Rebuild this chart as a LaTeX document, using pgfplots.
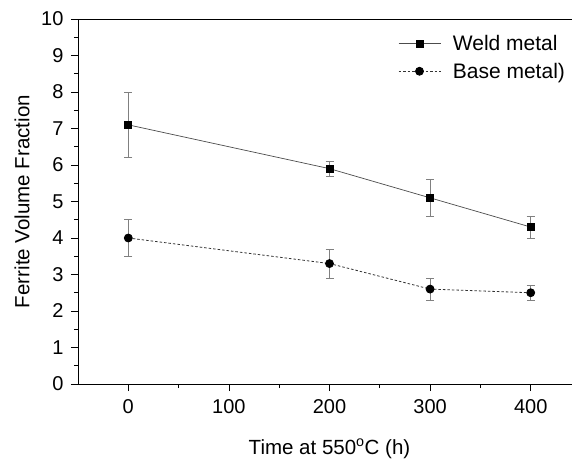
\documentclass[border=0pt]{standalone}
\usepackage{fontspec}
\setmainfont{Liberation Sans}
\usepackage{pgfplots}
\pgfplotsset{compat=1.18}
\newcommand\fs{\fontsize{20bp}{24bp}\selectfont}
\newcommand\fl{\fontsize{20.5bp}{24bp}\selectfont}
\begin{document}
\begin{tikzpicture}
\begin{axis}[
  at={(0,0)}, anchor=south west,
  scale only axis,
  width=503bp, height=365bp,
  xmin=-50, xmax=450,
  ymin=0, ymax=10,
  xtick={0,100,200,300,400},
  ytick={0,1,2,3,4,5,6,7,8,9,10},
  minor x tick num=1, minor y tick num=1,
  tick align=outside,
  xtick pos=bottom, ytick pos=left,
  major tick length=7bp, minor tick length=4bp,
  every tick/.style={black, line width=0.8bp},
  axis line style={line width=0.9bp},
  /pgf/number format/assume math mode=true,
  tick label style={font=\fs},
  xticklabel style={yshift=-5bp},
  yticklabel style={xshift=-4bp},
  xlabel={Time at 550\textsuperscript{o}C (h)},
  ylabel={Ferrite Volume Fraction},
  every axis x label/.style={at={(axis description cs:0.5,-0.192)}, anchor=base, font=\fl},
  every axis y label/.style={at={(axis description cs:-0.111,0.5)}, anchor=center, rotate=90, font=\fl},
  legend style={at={(rel axis cs:0.636,0.9616)}, anchor=north west, draw=none, fill=none,
    font=\fontsize{21bp}{25bp}\selectfont, row sep=7bp, inner sep=0pt,
    /tikz/every odd column/.append style={column sep=10bp}},
  legend cell align=left,
  legend image code/.code={
    \draw[mark repeat=2, mark phase=2] plot coordinates {(0bp,0bp) (21bp,0bp) (42bp,0bp)};
  },
]
\addplot[gray!60!black, line width=0.7bp,
  mark=square*, mark size=3.5bp, mark options={solid, fill=black, draw=black},
  error bars/.cd, y dir=both, y explicit,
  error bar style={gray, line width=0.6bp, solid},
  error mark options={rotate=90, mark size=4bp, gray, line width=0.6bp}]
table[x=t, y=v, y error=e]{
t v e
0 7.1 0.9
200 5.9 0.2
300 5.1 0.5
400 4.3 0.3
};
\addlegendentry{Weld metal}
\addplot[gray!40!black, line width=0.8bp, dash pattern=on 2.5bp off 2bp,
  mark=*, mark size=4bp, mark options={solid, fill=black, draw=black},
  error bars/.cd, y dir=both, y explicit,
  error bar style={gray, line width=0.6bp, solid},
  error mark options={rotate=90, mark size=4bp, gray, line width=0.6bp}]
table[x=t, y=v, y error=e]{
t v e
0 4.0 0.5
200 3.3 0.4
300 2.6 0.3
400 2.5 0.2
};
\addlegendentry{Base metal)}
\draw[line width=0.9bp] (rel axis cs:0,1) -- (rel axis cs:1,1);
\end{axis}
\pgfresetboundingbox
\path[use as bounding box] (-78bp,-75bp) rectangle (494bp,384bp);
\end{tikzpicture}
\end{document}
